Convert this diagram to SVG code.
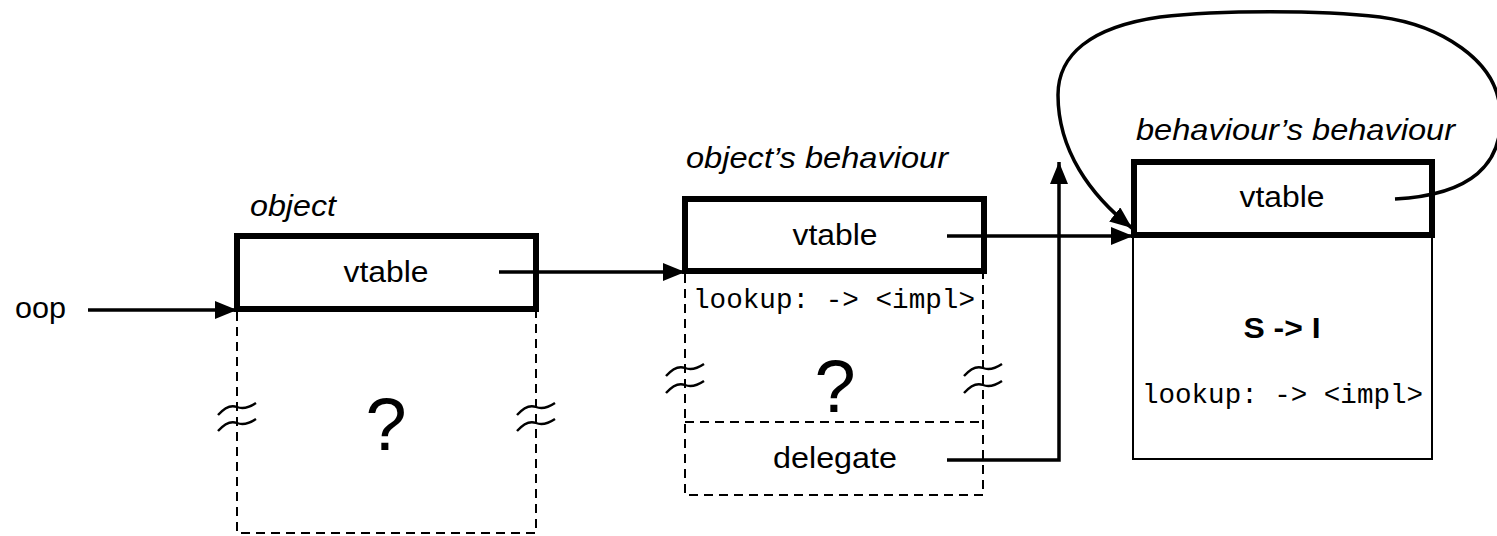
<svg xmlns="http://www.w3.org/2000/svg" width="1497" height="536" viewBox="0 0 1497 536">
<style>
.bg{fill:#fff}
.thick{fill:#fff;stroke:#000;stroke-width:6}
.dash{fill:none;stroke:#000;stroke-width:2;stroke-dasharray:9 6}
.thin{fill:none;stroke:#000;stroke-width:2}
.wave{fill:none;stroke:#000;stroke-width:2.4}
.conn{fill:none;stroke:#000;stroke-width:3.5}
.sans{font-family:"Liberation Sans",Arial,sans-serif;font-size:30px;fill:#000}
.ital{font-family:"Liberation Sans",Arial,sans-serif;font-size:30px;font-style:italic;fill:#000}
.mono{font-family:"Liberation Mono","Courier New",monospace;font-size:27.5px;fill:#000}
.big{font-family:"Liberation Sans",Arial,sans-serif;font-size:74px;fill:#000}
.bold{font-family:"Liberation Sans",Arial,sans-serif;font-size:30px;font-weight:bold;fill:#000}
.mid{text-anchor:middle}
</style>
<defs>
<marker id="arr" markerUnits="userSpaceOnUse" markerWidth="24" markerHeight="20" refX="22" refY="9" orient="auto">
<path d="M0,0 L22,9 L0,18 z" fill="#000"/>
</marker>
<path id="brk" class="wave" d="M-19,6 C-11,-3 -5,-4 0,-2 C5,0 10,0 19,-6"/>
</defs>
<rect class="bg" width="1497" height="536"/>

<text class="sans" x="15" y="318" textLength="51" lengthAdjust="spacingAndGlyphs">oop</text>

<g id="object">
<text class="ital" x="250" y="216" textLength="86" lengthAdjust="spacingAndGlyphs">object</text>
<path class="dash" d="M237,312 V533 H536 V312"/>
<rect class="thick" x="237" y="236" width="299" height="73"/>
<text class="sans mid" x="386" y="282" textLength="85" lengthAdjust="spacingAndGlyphs">vtable</text>
<text class="big mid" x="386" y="450">?</text>
<use href="#brk" x="237" y="409"/>
<use href="#brk" x="237" y="425"/>
<use href="#brk" x="536" y="409"/>
<use href="#brk" x="536" y="425"/>
</g>

<g id="objects-behaviour">
<text class="ital" x="686" y="168" textLength="262" lengthAdjust="spacingAndGlyphs">object’s behaviour</text>
<path class="dash" d="M685,274 V495 H983 V274 M685,422 H983"/>
<rect class="thick" x="685" y="199" width="299" height="72"/>
<text class="sans mid" x="835" y="245" textLength="85" lengthAdjust="spacingAndGlyphs">vtable</text>
<text class="mono" x="693" y="308" textLength="282" lengthAdjust="spacingAndGlyphs">lookup: -&gt; &lt;impl&gt;</text>
<text class="big mid" x="835" y="412">?</text>
<text class="sans mid" x="835" y="468" textLength="124" lengthAdjust="spacingAndGlyphs">delegate</text>
<use href="#brk" x="685" y="370"/>
<use href="#brk" x="685" y="387"/>
<use href="#brk" x="983" y="370"/>
<use href="#brk" x="983" y="387"/>
</g>

<g id="behaviours-behaviour">
<text class="ital" x="1136" y="140" textLength="319" lengthAdjust="spacingAndGlyphs">behaviour’s behaviour</text>
<path class="thin" d="M1133,238 V459 H1432 V238"/>
<rect class="thick" x="1134" y="162" width="298" height="73"/>
<text class="sans mid" x="1282" y="207" textLength="85" lengthAdjust="spacingAndGlyphs">vtable</text>
<text class="bold mid" x="1282" y="338" textLength="77" lengthAdjust="spacingAndGlyphs">S -&gt; I</text>
<text class="mono" x="1142" y="403" textLength="281" lengthAdjust="spacingAndGlyphs">lookup: -&gt; &lt;impl&gt;</text>
</g>

<g id="connectors">
<path class="conn" d="M88,310 H237" marker-end="url(#arr)"/>
<path class="conn" d="M499,272 H685" marker-end="url(#arr)"/>
<path class="conn" d="M947,236 H1133" marker-end="url(#arr)"/>
<path class="conn" d="M947,460 H1059 V162" marker-end="url(#arr)"/>
<path class="conn" d="M1395,199 C1470,195 1505,165 1500,110 C1497,60 1440,25 1380,17 C1320,10 1220,10 1160,17 C1090,27 1058,55 1058,95 C1058,150 1090,195 1132,228" marker-end="url(#arr)"/>
</g>
</svg>
